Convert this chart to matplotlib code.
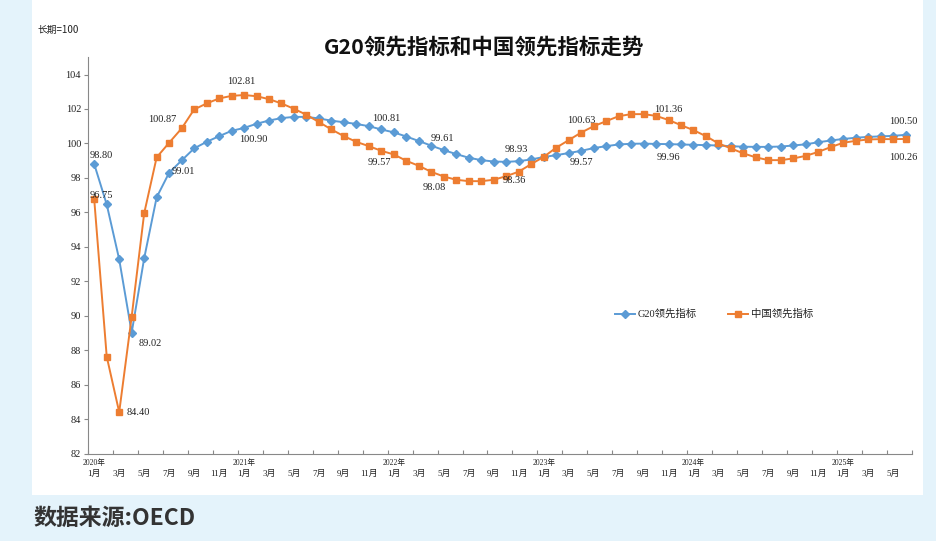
import matplotlib
matplotlib.use('Agg')
import matplotlib.pyplot as plt
from matplotlib.patches import Rectangle

# data (2020-01 .. 2025-06), long term = 100
years = [2020, 2021, 2022, 2023, 2024, 2025]
months = ['%d-%02d' % (y, m) for y in years for m in range(1, 13)][:66]

g20 = [98.80, 96.46, 93.27, 89.02, 93.33, 96.87, 98.30, 99.01, 99.71, 100.09, 100.42, 100.73,
       100.90, 101.14, 101.33, 101.47, 101.54, 101.54, 101.45, 101.32, 101.23, 101.13, 101.00, 100.81,
       100.64, 100.40, 100.14, 99.87, 99.61, 99.38, 99.17, 99.03, 98.95, 98.93, 98.97, 99.07,
       99.21, 99.32, 99.44, 99.57, 99.73, 99.84, 99.94, 99.98, 99.99, 99.97, 99.96, 99.94,
       99.92, 99.90, 99.88, 99.84, 99.81, 99.80, 99.80, 99.82, 99.88, 99.95, 100.07, 100.17,
       100.26, 100.33, 100.38, 100.41, 100.44, 100.50]

china = [96.75, 87.63, 84.40, 89.95, 95.94, 99.19, 100.04, 100.87, 101.97, 102.32, 102.61, 102.76,
         102.81, 102.74, 102.57, 102.32, 102.01, 101.66, 101.24, 100.81, 100.42, 100.09, 99.84, 99.57,
         99.36, 98.99, 98.70, 98.35, 98.08, 97.89, 97.81, 97.81, 97.89, 98.10, 98.36, 98.80,
         99.22, 99.75, 100.19, 100.63, 101.00, 101.29, 101.58, 101.70, 101.70, 101.60, 101.36, 101.06,
         100.77, 100.42, 100.00, 99.71, 99.42, 99.19, 99.03, 99.03, 99.13, 99.28, 99.51, 99.79,
         100.04, 100.15, 100.23, 100.25, 100.25, 100.26]

# labelled points: (index, text, dx, dy) offsets in points
g20_labels = [(0, '98.80', 5, 6.5), (3, '89.02', 13.7, -8), (7, '99.01', 1.5, -8),
              (12, '100.90', 6.5, -8.6), (23, '100.81', 3.6, 8), (28, '99.61', -0.7, 8.6),
              (33, '98.93', 7.2, 8.6), (39, '99.57', 0, -8.6), (46, '99.96', 0, -9.4),
              (65, '100.50', -1.4, 9.4)]
china_labels = [(0, '96.75', 5, 3), (2, '84.40', 13.7, 0), (7, '100.87', -13.7, 6.5),
                (12, '102.81', -2, 9.4), (23, '99.57', -1.4, -8.6), (28, '98.08', -7.2, -8),
                (34, '98.36', -3, -6.5), (39, '100.63', 0, 8.6), (46, '101.36', 0, 7.2),
                (65, '100.26', -1.4, -13)]

blue = '#5b9bd5'
orange = '#ed7d31'
serif_cjk = ['Liberation Serif', 'Noto Sans CJK SC']
sans_cjk = ['Noto Sans CJK SC', 'DejaVu Sans']

fig = plt.figure(figsize=(9.37, 5.41), dpi=100, facecolor='#e4f3fb')
fig.patches.append(Rectangle((32 / 937, 46 / 541), 891 / 937, 1 - 46 / 541,
                             transform=fig.transFigure, facecolor='white',
                             edgecolor='none', zorder=-5))

ax = fig.add_axes([0.0939, 0.1617, 0.8794, 0.7324])
ax.set_zorder(2)
ax.set_facecolor('none')

x = list(range(len(months)))
ax.plot(x, g20, color=blue, lw=1.4, marker='D', ms=4, label='G20领先指标')
ax.plot(x, china, color=orange, lw=1.4, marker='s', ms=4.5, label='中国领先指标')

for i, t, dx, dy in g20_labels:
    ax.annotate(t, (i, g20[i]), xytext=(dx, dy), textcoords='offset points',
                ha='center', va='center', fontsize=7.5, family=serif_cjk, color='#222')
for i, t, dx, dy in china_labels:
    ax.annotate(t, (i, china[i]), xytext=(dx, dy), textcoords='offset points',
                ha='center', va='center', fontsize=7.5, family=serif_cjk, color='#222')

ax.set_xlim(-0.5, len(months) - 0.5)
ax.set_ylim(82, 105)
ax.set_yticks(range(82, 105, 2))
for lab in ax.get_yticklabels():
    lab.set_family(serif_cjk)
ax.tick_params(axis='y', direction='out', length=3, width=0.8, color='#888',
               labelsize=7.5, pad=2, labelcolor='#222')

# ticks at category boundaries every 2 months, labels at category centres
ax.set_xticks([v - 0.5 for v in range(0, len(months) + 1, 2)])
ax.set_xticklabels([])
ax.tick_params(axis='x', which='major', direction='in', length=3, width=0.8, color='#888')
centres = list(range(0, len(months), 2))
ax.set_xticks(centres, minor=True)
ax.set_xticklabels(['%d月' % int(months[c][5:]) for c in centres], minor=True,
                   family=serif_cjk, fontsize=6.5, color='#222')
ax.tick_params(axis='x', which='minor', length=0, pad=12)
for c in centres:
    if months[c].endswith('-01'):
        ax.annotate('%s年' % months[c][:4], (c, 0), xycoords=('data', 'axes fraction'),
                    xytext=(0, -4), textcoords='offset points', ha='center', va='top',
                    fontsize=5.5, family=serif_cjk, color='#222')

for s in ['top', 'right']:
    ax.spines[s].set_visible(False)
for s in ['left', 'bottom']:
    ax.spines[s].set_color('#888')
    ax.spines[s].set_linewidth(0.8)

leg = ax.legend(loc='center', bbox_to_anchor=(0.76, 0.352), ncol=2, frameon=False,
                prop={'family': serif_cjk, 'size': 7.5}, handlelength=1.9,
                columnspacing=3.0, handletextpad=0.3)
for t in leg.get_texts():
    t.set_color('#222')

fig.text(484 / 937, 1 - 47 / 541, 'G20领先指标和中国领先指标走势', ha='center', va='center',
         fontsize=15.5, family=sans_cjk, weight='bold', color='#111')
fig.text(37 / 937, 1 - 30 / 541, '长期=100', ha='left', va='center',
         fontsize=7, family=sans_cjk, color='#222')
fig.text(33 / 937, 1 - 518 / 541, '数据来源:OECD', ha='left', va='center',
         fontsize=16.5, family=sans_cjk, weight='bold', color='#333')

fig.savefig('out.png', dpi=100, facecolor=fig.get_facecolor())
